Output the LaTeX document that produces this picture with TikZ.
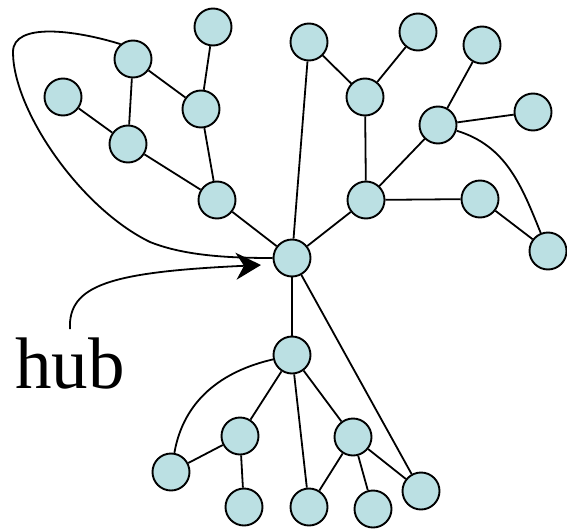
\documentclass[tikz,border=0pt]{standalone}
\usepackage{fontspec}
\setmainfont{Liberation Serif}
\usetikzlibrary{arrows.meta}
\definecolor{nodefill}{RGB}{187,224,227}
\begin{document}
\begin{tikzpicture}[x=1pt,y=-1pt,
  vert/.style={circle,draw=black,line width=1.9pt,fill=nodefill,minimum size=37pt,inner sep=0pt},
  edge/.style={draw=black,line width=1.8pt},
  pointer/.style={draw=black,line width=1.8pt,-{Stealth[length=25pt,width=27pt,inset=8pt]}}]
\useasboundingbox (0,0) rectangle (567,530);
% nodes
\node[vert] (n1) at (213,27) {};
\node[vert] (n2) at (133,59) {};
\node[vert] (n3) at (63,97) {};
\node[vert] (n4) at (201,109) {};
\node[vert] (n5) at (128,144) {};
\node[vert] (n6) at (217,200) {};
\node[vert] (n7) at (309,42) {};
\node[vert] (n8) at (418,32) {};
\node[vert] (n9) at (482,45) {};
\node[vert] (n10) at (365,97) {};
\node[vert] (n11) at (438,125) {};
\node[vert] (n12) at (533,112) {};
\node[vert] (n13) at (366,200) {};
\node[vert] (n14) at (480,199) {};
\node[vert] (n15) at (548,251) {};
\node[vert] (hub) at (292,258) {};
\node[vert] (n17) at (292,355) {};
\node[vert] (n18) at (240,436) {};
\node[vert] (n19) at (353,437) {};
\node[vert] (n20) at (171,472) {};
\node[vert] (n21) at (244,507) {};
\node[vert] (n22) at (309,507) {};
\node[vert] (n23) at (373,509) {};
\node[vert] (n24) at (421,491) {};
\node[anchor=base west,inner sep=0pt,font=\fontsize{73}{80}\selectfont] (hublabel) at (15,388) {hub};
\coordinate (tip) at (261,265);
% edges
\draw[edge] (n1) -- (n4);
\draw[edge] (n2) -- (n4);
\draw[edge] (n2) -- (n5);
\draw[edge] (n3) -- (n5);
\draw[edge] (n4) -- (n6);
\draw[edge] (n5) -- (n6);
\draw[edge] (n6) -- (hub);
\draw[edge] (n7) -- (hub);
\draw[edge] (n7) -- (n10);
\draw[edge] (n8) -- (n10);
\draw[edge] (n10) -- (n13);
\draw[edge] (n13) -- (hub);
\draw[edge] (n13) -- (n11);
\draw[edge] (n13) -- (n14);
\draw[edge] (n11) -- (n9);
\draw[edge] (n11) -- (n12);
\draw[edge] (n14) -- (n15);
\draw[edge] (n11) to[out=-17,in=112] (n15);
\draw[edge] (hub) -- (n17);
\draw[edge] (hub) -- (n24);
\draw[edge] (n17) -- (n18);
\draw[edge] (n17) -- (n19);
\draw[edge] (n17) -- (n22);
\draw[edge] (n17) to[out=193,in=80] (n20);
\draw[edge] (n18) -- (n20);
\draw[edge] (n18) -- (n21);
\draw[edge] (n19) -- (n22);
\draw[edge] (n19) -- (n23);
\draw[edge] (n19) -- (n24);
\draw[edge] (n2.130) .. controls (75,30) and (13,22) .. (13,52)
  .. controls (13,110) and (80,208) .. (150,242)
  .. controls (185,256) and (230,258) .. (hub.west);
\draw[pointer] ([yshift=8pt]hublabel.north) .. controls (68,285) and (110,272) .. (tip);
\end{tikzpicture}
\end{document}
